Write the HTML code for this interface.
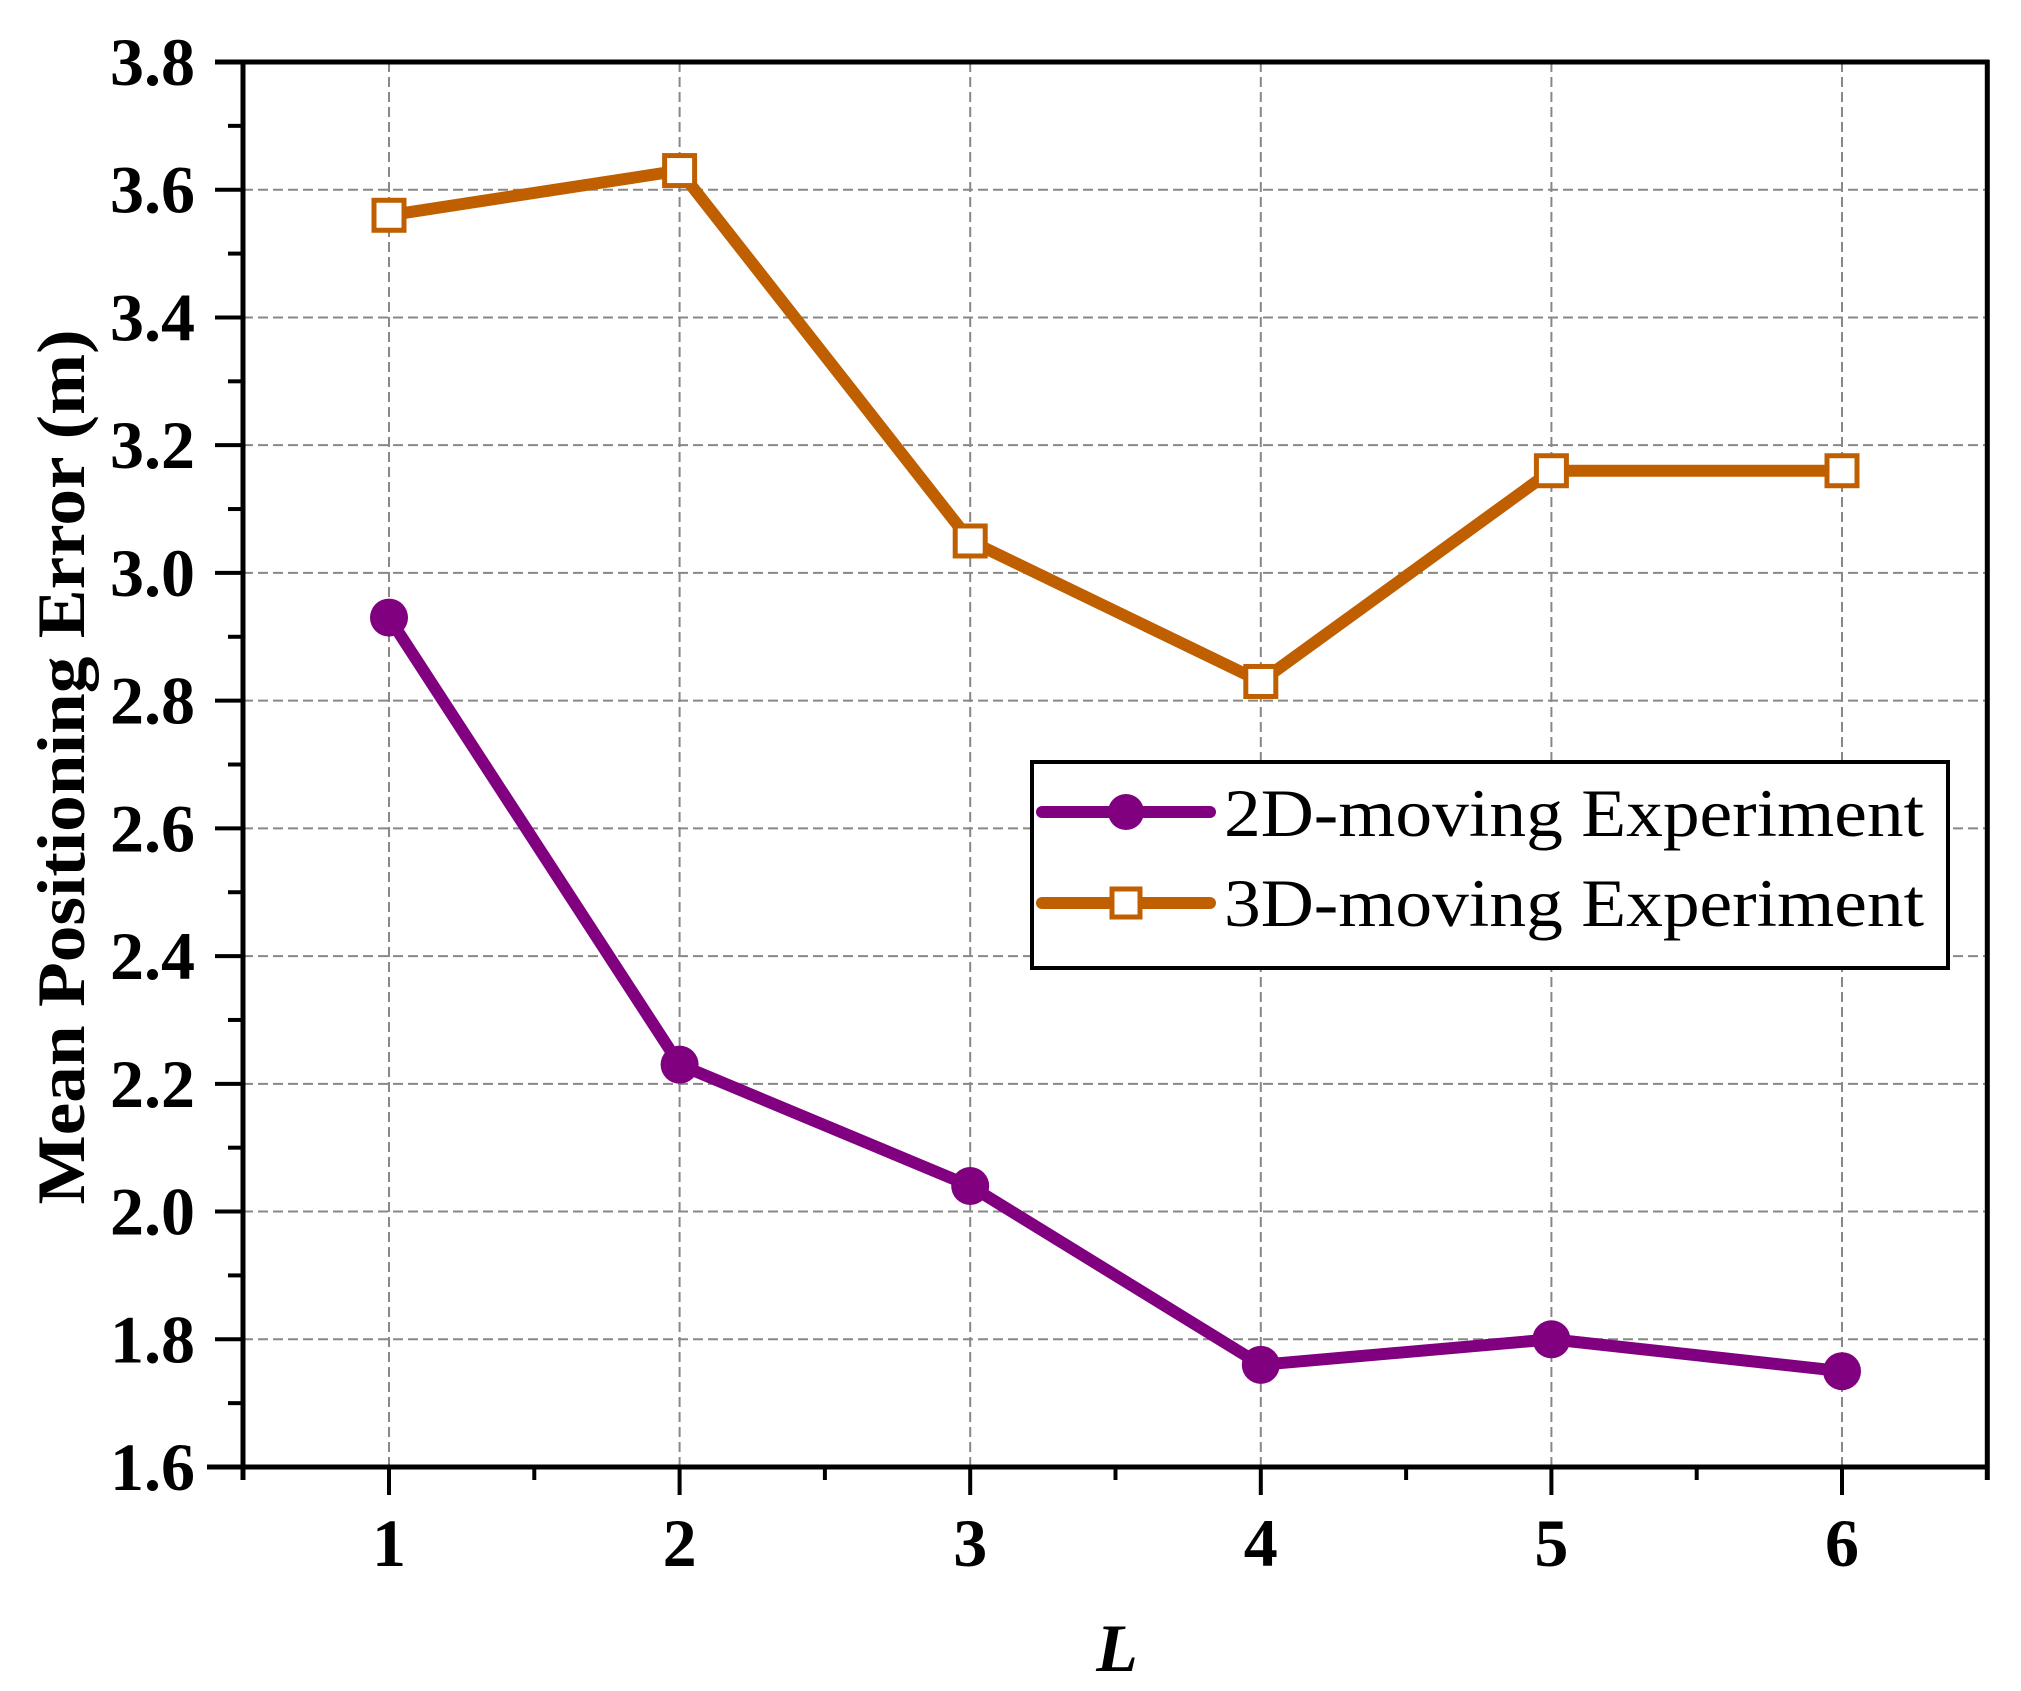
<!DOCTYPE html>
<html><head><meta charset="utf-8"><style>
html,body{margin:0;padding:0;background:#fff}
svg{display:block}
text{font-family:"Liberation Serif","Times New Roman",serif}
</style></head><body>
<svg id="chart" width="2021" height="1691" viewBox="0 0 2021 1691" xmlns="http://www.w3.org/2000/svg">
<g id="grid"></g>
<g id="axes"></g>
<g id="series"></g>
<text font-family="Liberation Serif, serif" transform="translate(84,767) rotate(-90)" text-anchor="middle" font-size="68" font-weight="bold" textLength="875" lengthAdjust="spacingAndGlyphs">Mean Positioning Error (m)</text>
<text font-family="Liberation Serif, serif" x="1117" y="1671" text-anchor="middle" font-size="68" font-weight="bold" font-style="italic">L</text>
<g>
<rect x="1032" y="762" width="916" height="206" fill="#fff" stroke="#000" stroke-width="4"/>
<g>
<line x1="1042" y1="812" x2="1210" y2="812" stroke="#800080" stroke-width="12" stroke-linecap="round"/>
<circle cx="1126" cy="812" r="18" fill="#800080"/>
<text font-family="Liberation Serif, serif" x="1224" y="836" font-size="68" textLength="700" lengthAdjust="spacingAndGlyphs">2D-moving Experiment</text>
</g>
<g>
<line x1="1042" y1="903" x2="1210" y2="903" stroke="#bf5f00" stroke-width="12" stroke-linecap="round"/>
<rect x="1112" y="889" width="28" height="28" fill="#fff" stroke="#bf5f00" stroke-width="5"/>
<text font-family="Liberation Serif, serif" x="1224" y="926" font-size="68" textLength="700" lengthAdjust="spacingAndGlyphs">3D-moving Experiment</text>
</g>
</g>
</svg>
<script>
const categories = [1, 2, 3, 4, 5, 6];
const series2D = [2.93, 2.23, 2.04, 1.76, 1.80, 1.75];
const series3D = [3.56, 3.63, 3.05, 2.83, 3.16, 3.16];
const yTicks = [1.6, 1.8, 2.0, 2.2, 2.4, 2.6, 2.8, 3.0, 3.2, 3.4, 3.6, 3.8];
const yTickLabels = ["1.6","1.8","2.0","2.2","2.4","2.6","2.8","3.0","3.2","3.4","3.6","3.8"];
const xTickLabels = ["1","2","3","4","5","6"];

const NS = "http://www.w3.org/2000/svg";
const xs = v => 389 + (v - 1) * 290.6;
const ys = v => 1467 - (v - 1.6) * (1405 / 2.2);
function mk(tag, attrs, parent) {
  const e = document.createElementNS(NS, tag);
  for (const k in attrs) e.setAttribute(k, attrs[k]);
  parent.appendChild(e);
  return e;
}
const grid = document.getElementById('grid');
const axes = document.getElementById('axes');
const ser = document.getElementById('series');
const XR = xs(6.5);

yTicks.forEach((v, i) => {
  const y = ys(v);
  if (i > 0 && i < yTicks.length - 1) {
    const g = mk('line', {x1: 243, x2: XR, y1: y, y2: y, stroke: '#888', 'stroke-width': 2, 'stroke-dasharray': '10,5'}, grid);
    
    
  }
  const t = mk('line', {x1: 215, x2: 243, y1: y, y2: y, stroke: '#000', 'stroke-width': 4}, axes);
  
  
  const lb = mk('text', {x: 195, y: y + 23, 'text-anchor': 'end', 'font-size': 68, 'font-weight': 'bold', 'font-family': 'Liberation Serif, serif'}, axes);
  lb.textContent = yTickLabels[i];
  
  
  if (i < yTicks.length - 1) {
    const m = mk('line', {x1: 228, x2: 243, y1: ys(v + 0.1), y2: ys(v + 0.1), stroke: '#000', 'stroke-width': 4}, axes);
    
    
  }
});
categories.forEach((c, i) => {
  const x = xs(c);
  const g = mk('line', {x1: x, x2: x, y1: 62, y2: 1467, stroke: '#888', 'stroke-width': 2, 'stroke-dasharray': '10,5'}, grid);
  
  
  const t = mk('line', {x1: x, x2: x, y1: 1467, y2: 1495, stroke: '#000', 'stroke-width': 4}, axes);
  
  
  const lb = mk('text', {x: x, y: 1566, 'text-anchor': 'middle', 'font-size': 68, 'font-weight': 'bold', 'font-family': 'Liberation Serif, serif'}, axes);
  lb.textContent = xTickLabels[i];
  
  
  const m = mk('line', {x1: xs(c + 0.5), x2: xs(c + 0.5), y1: 1467, y2: 1480, stroke: '#000', 'stroke-width': 4}, axes);
  
  
});
const frame = [
  [215, 62, XR + 2, 62, 'top-axis-line'],
  [243, 60, 243, 1480, 'y-axis-line'],
  [207, 1467, XR + 2, 1467, 'x-axis-line'],
  [XR, 60, XR, 1480, 'right-axis-line']
];
frame.forEach(f => {
  const l = mk('line', {x1: f[0], y1: f[1], x2: f[2], y2: f[3], stroke: '#000', 'stroke-width': 5}, axes);
  
  
});

function drawLine(vals, color, name) {
  const pts = vals.map((v, i) => xs(categories[i]) + ',' + ys(v)).join(' ');
  const pl = mk('polyline', {points: pts, fill: 'none', stroke: color, 'stroke-width': 12, 'stroke-linejoin': 'round'}, ser);
  
  
}
drawLine(series3D, '#bf5f00', 'series-3d');
drawLine(series2D, '#800080', 'series-2d');
series2D.forEach((v, i) => {
  const c = mk('circle', {cx: xs(categories[i]), cy: ys(v), r: 19, fill: '#800080'}, ser);
  
  
});
series3D.forEach((v, i) => {
  const r = mk('rect', {x: xs(categories[i]) - 15, y: ys(v) - 15, width: 30, height: 30, fill: '#fff', stroke: '#bf5f00', 'stroke-width': 5}, ser);
  
  
});
</script>
</body></html>
